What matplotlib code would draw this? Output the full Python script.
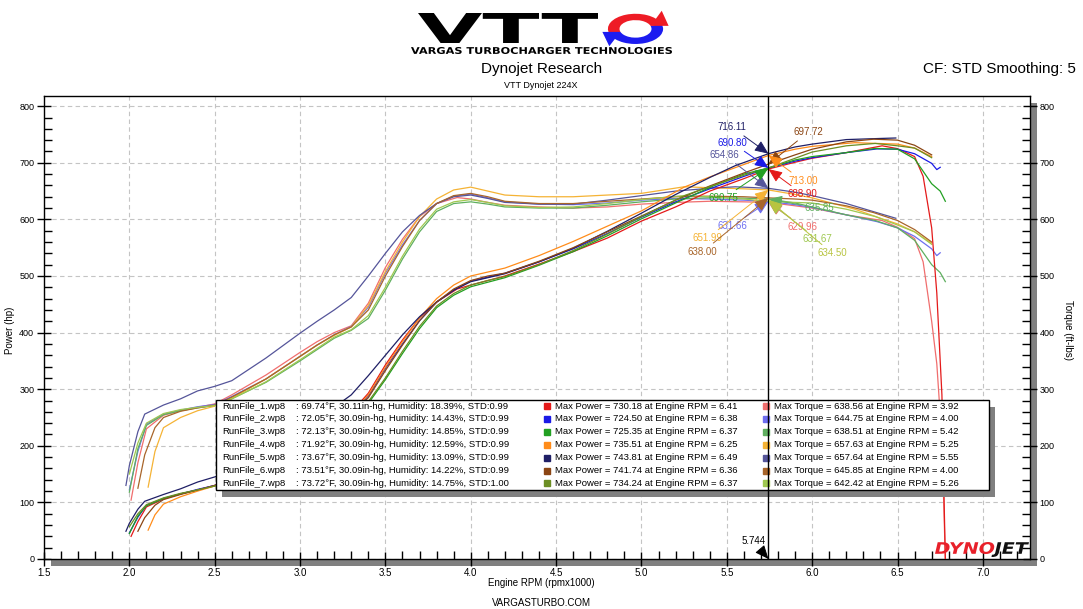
import matplotlib
matplotlib.use('Agg')
import matplotlib.pyplot as plt
from matplotlib.patches import Rectangle, PathPatch, Wedge, Polygon
from matplotlib.textpath import TextPath
from matplotlib.font_manager import FontProperties
from matplotlib.ticker import MultipleLocator, FormatStrFormatter

plt.rcParams['font.family'] = ['Liberation Sans', 'DejaVu Sans']

# Datos de las 7 pasadas (rpm x1000, potencia hp, par ft-lbs)
rpm_run1 = [2.01, 2.05, 2.10, 2.20, 2.30, 2.40, 2.50, 2.60, 2.80, 3.00, 3.10, 3.20, 3.30, 3.40, 3.50, 3.60, 3.70, 3.80, 3.92, 4.00, 4.10, 4.20, 4.40, 4.60, 4.80, 5.00, 5.20, 5.40, 5.60, 5.744, 5.90, 6.00, 6.20, 6.41, 6.50, 6.60, 6.65, 6.70, 6.73, 6.76, 6.78]
hp_run1 = [40, 66, 92, 106, 115, 122, 130, 144, 173, 208, 227, 244, 259, 293, 343, 387, 426, 454, 477, 484, 492, 500, 521, 543, 567, 597, 622, 650, 672, 689, 701, 708, 718, 730, 725, 711, 676, 585, 470, 290, 0]
tq_run1 = [104, 170, 230, 254, 262, 268, 274, 290, 325, 365, 384, 400, 412, 452, 515, 565, 605, 628, 638.6, 636, 630, 625, 622, 620, 622, 627, 630, 632, 631, 630, 624, 620, 608, 598, 586, 566, 525, 420, 345, 210, 0]

rpm_run2 = [2.00, 2.05, 2.10, 2.20, 2.30, 2.40, 2.50, 2.60, 2.80, 3.00, 3.10, 3.20, 3.30, 3.40, 3.50, 3.60, 3.70, 3.80, 3.90, 4.00, 4.10, 4.20, 4.40, 4.60, 4.80, 5.00, 5.20, 5.40, 5.60, 5.744, 5.90, 6.00, 6.20, 6.38, 6.50, 6.60, 6.70, 6.73, 6.75]
hp_run2 = [46, 74, 95, 107, 115, 123, 130, 142, 170, 204, 223, 241, 258, 288, 337, 380, 421, 454, 475, 491, 498, 505, 525, 548, 575, 604, 631, 654, 676, 690.8, 703, 709, 718, 724.5, 724, 716, 699, 688, 692]
tq_run2 = [122, 190, 238, 256, 263, 269, 273, 287, 318, 358, 378, 396, 411, 445, 505, 555, 598, 628, 641, 644.8, 638, 631, 627, 626, 629, 634, 637, 636, 634, 631.7, 626, 621, 608, 596, 585, 570, 548, 536, 541]

rpm_run3 = [2.00, 2.05, 2.10, 2.20, 2.30, 2.40, 2.50, 2.60, 2.80, 3.00, 3.10, 3.20, 3.30, 3.40, 3.50, 3.60, 3.70, 3.80, 3.90, 4.00, 4.10, 4.20, 4.40, 4.60, 4.80, 5.00, 5.20, 5.42, 5.60, 5.744, 5.90, 6.00, 6.20, 6.37, 6.50, 6.60, 6.70, 6.75, 6.78]
hp_run3 = [45, 76, 94, 107, 115, 122, 129, 140, 166, 200, 218, 238, 254, 275, 317, 363, 407, 444, 466, 481, 489, 497, 519, 543, 571, 601, 629, 659, 680, 690.8, 705, 711, 718, 725.4, 724, 707, 663, 650, 632]
tq_run3 = [118, 195, 236, 255, 262, 267, 271, 283, 312, 350, 370, 390, 404, 425, 475, 530, 578, 614, 628, 631, 627, 622, 620, 620, 625, 631, 636, 638.5, 637.5, 635.9, 629, 622, 608, 598, 585, 563, 520, 506, 490]

rpm_run4 = [2.11, 2.15, 2.20, 2.30, 2.40, 2.50, 2.60, 2.80, 3.00, 3.10, 3.20, 3.30, 3.40, 3.50, 3.60, 3.70, 3.80, 3.90, 4.00, 4.10, 4.20, 4.40, 4.60, 4.80, 5.00, 5.25, 5.40, 5.60, 5.744, 5.90, 6.00, 6.25, 6.40, 6.50, 6.60, 6.70]
hp_run4 = [51, 78, 97, 110, 120, 129, 141, 170, 205, 223, 241, 258, 290, 339, 384, 426, 460, 484, 500, 507, 514, 536, 561, 588, 615, 657, 675, 697, 713, 724, 729, 735.5, 734, 733, 726, 711]
tq_run4 = [127, 190, 232, 250, 262, 270, 284, 318, 358, 378, 395, 410, 448, 508, 560, 605, 636, 652, 657, 650, 643, 640, 640, 643, 646, 657.6, 656, 654, 652, 644, 638, 618, 602, 592, 578, 558]

rpm_run5 = [1.98, 2.00, 2.05, 2.09, 2.20, 2.30, 2.40, 2.50, 2.60, 2.80, 3.00, 3.10, 3.20, 3.30, 3.40, 3.50, 3.60, 3.70, 3.80, 3.90, 4.00, 4.10, 4.20, 4.40, 4.60, 4.80, 5.00, 5.20, 5.40, 5.55, 5.744, 5.90, 6.00, 6.20, 6.40, 6.49]
hp_run5 = [49, 63, 88, 102, 114, 124, 136, 145, 156, 189, 228, 248, 268, 290, 324, 360, 396, 428, 454, 475, 490, 497, 504, 525, 549, 579, 611, 644, 674, 695, 716.1, 728, 733, 741, 743, 743.8]
tq_run5 = [130, 165, 225, 256, 272, 283, 297, 305, 315, 355, 399, 420, 440, 462, 500, 540, 578, 607, 628, 640, 643, 637, 630, 627, 627, 634, 642, 650, 655, 657.6, 654.9, 648, 642, 628, 610, 602]

rpm_run6 = [2.05, 2.09, 2.15, 2.20, 2.30, 2.40, 2.50, 2.60, 2.80, 3.00, 3.10, 3.20, 3.30, 3.40, 3.50, 3.60, 3.70, 3.80, 3.90, 4.00, 4.10, 4.20, 4.40, 4.60, 4.80, 5.00, 5.20, 5.40, 5.60, 5.744, 5.90, 6.00, 6.20, 6.36, 6.50, 6.60, 6.70]
hp_run6 = [49, 73, 95, 105, 114, 122, 130, 142, 170, 205, 223, 241, 258, 285, 333, 378, 421, 454, 477, 492, 500, 505, 526, 550, 578, 606, 634, 659, 682, 697.7, 714, 724, 737, 741.7, 740, 731, 714]
tq_run6 = [125, 184, 232, 250, 261, 267, 272, 286, 318, 358, 378, 396, 410, 440, 500, 552, 598, 628, 642, 645.9, 640, 632, 628, 628, 632, 636, 640, 641, 640, 638, 636, 634, 624, 612, 598, 582, 560]

rpm_run7 = [2.00, 2.05, 2.10, 2.20, 2.30, 2.40, 2.50, 2.60, 2.80, 3.00, 3.10, 3.20, 3.30, 3.40, 3.50, 3.60, 3.70, 3.80, 3.90, 4.00, 4.10, 4.20, 4.40, 4.60, 4.80, 5.00, 5.26, 5.40, 5.60, 5.744, 5.90, 6.00, 6.20, 6.37, 6.50, 6.60, 6.70]
hp_run7 = [57, 80, 96, 108, 116, 122, 129, 140, 167, 201, 220, 239, 254, 278, 320, 367, 411, 447, 469, 484, 492, 499, 520, 545, 574, 605, 643, 658, 678, 690.9, 708, 719, 730, 734.2, 730, 726, 709]
tq_run7 = [150, 205, 240, 257, 264, 268, 271, 283, 313, 352, 372, 392, 405, 430, 480, 535, 583, 618, 631, 635, 630, 624, 621, 622, 628, 635, 642.4, 640, 636, 631.7, 630, 629, 618, 605, 590, 578, 556]

# Textos de la leyenda
run_names = ['RunFile_1.wp8', 'RunFile_2.wp8', 'RunFile_3.wp8', 'RunFile_4.wp8',
             'RunFile_5.wp8', 'RunFile_6.wp8', 'RunFile_7.wp8']
temps = ['69.74°F', '72.05°F', '72.13°F', '71.92°F', '73.67°F', '73.51°F', '73.72°F']
baros = ['30.11in-hg', '30.09in-hg', '30.09in-hg', '30.09in-hg', '30.09in-hg', '30.09in-hg', '30.09in-hg']
humids = ['18.39%', '14.43%', '14.85%', '12.59%', '13.09%', '14.22%', '14.75%']
stds = ['0.99', '0.99', '0.99', '0.99', '0.99', '0.99', '1.00']
max_power = [730.18, 724.50, 725.35, 735.51, 743.81, 741.74, 734.24]
max_power_rpm = [6.41, 6.38, 6.37, 6.25, 6.49, 6.36, 6.37]
max_torque = [638.56, 644.75, 638.51, 657.63, 657.64, 645.85, 642.42]
max_torque_rpm = [3.92, 4.00, 5.42, 5.25, 5.55, 4.00, 5.26]

# Valores del cursor
cursor_rpm = 5.744
cursor_labels = ['716.11', '690.80', '654.86', '697.72', '713.00', '688.90', '690.75',
                 '635.85', '631.66', '629.96', '651.99', '631.67', '638.00', '634.50']
cursor_values = [716.11, 690.80, 654.86, 697.72, 713.00, 688.90, 690.75,
                 635.85, 631.66, 629.96, 651.99, 631.67, 638.00, 634.50]

# Colores
power_colors = ['#e41a1a', '#1a1ae6', '#22a022', '#ff8c1a', '#1f1f66', '#8b4513', '#6b8e23']
torque_colors = ['#f06e6e', '#6e6ef0', '#5faf5f', '#f5b335', '#55559a', '#a8652a', '#9fc850']
cursor_colors = ['#1f1f66', '#1a1ae6', '#55559a', '#8b4513', '#ff8c1a', '#e41a1a', '#22a022',
                 '#5faf5f', '#6e6ef0', '#f06e6e', '#f5b335', '#9fc850', '#a8652a', '#b8c440']
# posicion de cada etiqueta del cursor (rpm, valor)
cursor_label_pos = [(5.53, 762.7), (5.53, 735.5), (5.484, 713.8), (5.977, 753.9),
                    (5.945, 668.4), (5.945, 644.4), (5.48, 637.3), (6.042, 619.6),
                    (5.53, 588.3), (5.945, 587.1), (5.386, 566.6), (6.03, 564.8),
                    (5.359, 542.9), (6.118, 540.1)]

W, H = 1083, 609


def caja(x0, y0, x1, y1):
    """Convierte una caja en pixeles (origen arriba a la izquierda) a fracciones de figura."""
    return [x0 / W, 1 - y1 / H, (x1 - x0) / W, (y1 - y0) / H]


def texto_estirado(fig, rect, partes, prop, hueco=0.08):
    """Dibuja un texto como trazado estirado para llenar la caja dada."""
    ax_t = fig.add_axes(caja(*rect))
    ax_t.axis('off')
    x = 0
    xs0, xs1, ys0, ys1 = [], [], [], []
    for texto, color in partes:
        p = TextPath((x, 0), texto, size=1, prop=prop)
        ax_t.add_patch(PathPatch(p, facecolor=color, edgecolor='none'))
        ext = p.get_extents()
        xs0.append(ext.x0); xs1.append(ext.x1); ys0.append(ext.y0); ys1.append(ext.y1)
        x = ext.x1 + hueco
    ax_t.set_xlim(min(xs0), max(xs1))
    ax_t.set_ylim(min(ys0), max(ys1))
    return ax_t


fig = plt.figure(figsize=(10.83, 6.09), dpi=100)

# Sombra gris del area de trazado
fig.add_artist(Rectangle((51 / W, 1 - 566 / H), 986 / W, 463 / H,
                         transform=fig.transFigure, facecolor='#808080',
                         edgecolor='none', zorder=-1))

ax = fig.add_axes(caja(44, 96, 1030, 559))
ax.set_xlim(1.5, 7.276)
ax.set_ylim(0, 818)

runs = [(rpm_run1, hp_run1, tq_run1), (rpm_run2, hp_run2, tq_run2),
        (rpm_run3, hp_run3, tq_run3), (rpm_run4, hp_run4, tq_run4),
        (rpm_run5, hp_run5, tq_run5), (rpm_run6, hp_run6, tq_run6),
        (rpm_run7, hp_run7, tq_run7)]

# Curvas de par y de potencia
for i, (rpm, hp, tq) in enumerate(runs):
    ax.plot(rpm, tq, color=torque_colors[i], lw=0.9, zorder=2)
for i, (rpm, hp, tq) in enumerate(runs):
    ax.plot(rpm, hp, color=power_colors[i], lw=0.9, zorder=3)

# Ejes y cuadricula
ax.xaxis.set_major_locator(MultipleLocator(0.5))
ax.xaxis.set_minor_locator(MultipleLocator(0.1))
ax.yaxis.set_major_locator(MultipleLocator(100))
ax.yaxis.set_minor_locator(MultipleLocator(20))
ax.xaxis.set_major_formatter(FormatStrFormatter('%.1f'))
ax.tick_params(which='major', direction='inout', length=10, width=1, labelsize=7)
ax.tick_params(which='minor', direction='in', length=6, width=1)
ax.tick_params(axis='y', which='both', left=True, right=True,
               labelleft=True, labelright=True, labelsize=6.5, pad=2)
ax.tick_params(axis='x', which='both', top=False, pad=1.5)
ax.grid(True, which='major', color='#c4c4c4', ls=(0, (4, 3)), lw=0.8)
ax.set_axisbelow(True)
for s in ax.spines.values():
    s.set_color('black')
    s.set_linewidth(1)

# Caja de la leyenda con sombra
ax.add_patch(Rectangle((2.54, 110), 4.532, 159, facecolor='#808080',
                       edgecolor='none', zorder=5))
ax.add_patch(Rectangle((2.505, 122), 4.531, 159, facecolor='white',
                       edgecolor='black', lw=1, zorder=5.5))

for i in range(7):
    y = 270.3 - i * 22.8
    ax.text(2.543, y, run_names[i], fontsize=6.8, va='center', zorder=6)
    ax.text(2.976, y, f': {temps[i]}, {baros[i]}, Humidity: {humids[i]}, STD:{stds[i]}',
            fontsize=6.8, va='center', zorder=6)
    ax.plot([4.447], [y], marker='s', ms=4, color=power_colors[i], zorder=6)
    ax.text(4.494, y, f'Max Power = {max_power[i]:.2f} at Engine RPM = {max_power_rpm[i]:.2f}',
            fontsize=6.8, va='center', zorder=6)
    ax.plot([5.730], [y], marker='s', ms=4, color=torque_colors[i], zorder=6)
    ax.text(5.777, y, f'Max Torque = {max_torque[i]:.2f} at Engine RPM = {max_torque_rpm[i]:.2f}',
            fontsize=6.8, va='center', zorder=6)

# Cursor vertical y etiquetas
ax.axvline(cursor_rpm, color='black', lw=1.0, zorder=8)
for etiqueta, valor, color, pos in zip(cursor_labels, cursor_values, cursor_colors, cursor_label_pos):
    ax.annotate(etiqueta, xy=(cursor_rpm, valor), xytext=pos, color=color,
                fontsize=7, ha='center', va='center', zorder=9,
                arrowprops=dict(arrowstyle='-|>,head_length=0.7,head_width=0.3',
                                color=color, lw=0.7, shrinkA=1, shrinkB=0,
                                mutation_scale=12))
ax.annotate(f'{cursor_rpm:.3f}', xy=(cursor_rpm, 0), xytext=(5.654, 31.8),
            fontsize=7, ha='center', va='center', zorder=9,
            arrowprops=dict(arrowstyle='-|>,head_length=0.7,head_width=0.3',
                            color='black', lw=0.7, shrinkA=1, shrinkB=0,
                            mutation_scale=12))

# Textos de la figura
fig.text(542 / W, 1 - 69 / H, 'Dynojet Research', ha='center', va='center', fontsize=11)
fig.text(541 / W, 1 - 85 / H, 'VTT Dynojet 224X', ha='center', va='center', fontsize=6.5)
fig.text(1076 / W, 1 - 69 / H, 'CF: STD Smoothing: 5', ha='right', va='center', fontsize=11)
fig.text(541 / W, 1 - 583 / H, 'Engine RPM (rpmx1000)', ha='center', va='center', fontsize=7)
fig.text(541 / W, 1 - 603 / H, 'VARGASTURBO.COM', ha='center', va='center', fontsize=7)
fig.text(10 / W, 1 - 330 / H, 'Power (hp)', ha='center', va='center', fontsize=7, rotation=90)
fig.text(1068 / W, 1 - 330 / H, 'Torque (ft-lbs)', ha='center', va='center', fontsize=7, rotation=270)

# Logotipo VTT
negrita = FontProperties(family='DejaVu Sans', weight='bold')
texto_estirado(fig, (418, 13, 598, 43), [('VTT', 'black')], negrita)
texto_estirado(fig, (411, 47, 672, 54), [('VARGAS TURBOCHARGER TECHNOLOGIES', 'black')], negrita)
ax_o = fig.add_axes(caja(601, 10, 670, 47))
ax_o.axis('off')
ax_o.set_xlim(-1.25, 1.25)
ax_o.set_ylim(-1.2, 1.25)
ax_o.add_patch(Wedge((0, 0), 1, 20, 200, width=0.42, facecolor='#ee1c25', edgecolor='none'))
ax_o.add_patch(Wedge((0, 0), 1, 200, 380, width=0.42, facecolor='#1c1cf0', edgecolor='none'))
ax_o.add_patch(Polygon([(0.55, 0.2), (1.2, 0.2), (0.95, 1.2)], closed=True,
                       facecolor='#ee1c25', edgecolor='none'))
ax_o.add_patch(Polygon([(-0.55, -0.2), (-1.2, -0.2), (-0.95, -1.15)], closed=True,
                       facecolor='#1c1cf0', edgecolor='none'))

# Logotipo Dynojet
cursiva = FontProperties(family='DejaVu Sans', weight='bold', style='italic')
texto_estirado(fig, (935, 542, 1029, 557), [('DYNO', '#e8202a'), ('JET', '#111111')], cursiva, hueco=0.02)

fig.savefig('out.png', dpi=100)
